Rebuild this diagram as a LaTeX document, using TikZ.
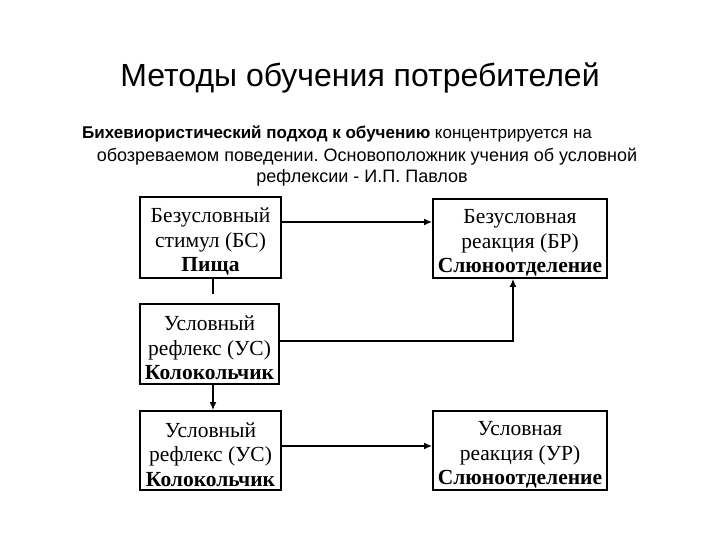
\documentclass[tikz,border=0pt]{standalone}
\usepackage{fontspec}
\setmainfont{Liberation Serif}
\newfontfamily\arialf{Liberation Sans}
\usetikzlibrary{arrows.meta,calc}
\frenchspacing
\newcommand{\topstrut}{\rule{0pt}{23pt}}
\tikzset{
  box/.style={draw, line width=1.8pt, rectangle, inner sep=0pt, align=center,
    font=\fontsize{21.5}{24.5}\selectfont},
  arr/.style={line width=1.5pt, -{Latex[length=8pt,width=7pt]}},
  ln/.style={line width=1.5pt},
  ttl/.style={font=\arialf\fontsize{32}{36}\selectfont, inner sep=0pt},
  sub/.style={font=\arialf\fontsize{17}{20}\selectfont, inner sep=0pt, anchor=base west},
  subb/.style={font=\arialf\fontsize{18}{20}\selectfont, inner sep=0pt, anchor=base}
}
\begin{document}
\begin{tikzpicture}[x=1pt,y=-1pt]
\useasboundingbox (0,0) rectangle (720,540);
\node[ttl] (title) at (360,78) {Методы обучения потребителей};
\node[sub] (s1) at (82,139) {\textbf{Бихевиористический подход к обучению} концентрируется на};
\node[subb] (s2) at (367,162) {обозреваемом поведении. Основоположник учения об условной};
\node[subb] (s3) at (362,183) {рефлексии - И.П. Павлов};

\node[box, minimum width=141pt, minimum height=81pt] (b1) at (210.5,237.5)
  {\topstrut Безусловный\\стимул (БС)\\\textbf{Пища}};
\node[box, minimum width=174pt, minimum height=79pt] (b2) at (520,238.5)
  {\topstrut Безусловная\\реакция (БР)\\\textbf{Слюноотделение}};
\node[box, minimum width=139pt, minimum height=80pt] (b3) at (209.5,344)
  {\topstrut Условный\\рефлекс (УС)\\\textbf{Колокольчик}};
\node[box, minimum width=141pt, minimum height=79pt] (b4) at (210.5,450.5)
  {\topstrut Условный\\рефлекс (УС)\\\textbf{Колокольчик}};
\node[box, minimum width=174pt, minimum height=79pt] (b5) at (520,450.5)
  {\topstrut Условная\\реакция (УР)\\\textbf{Слюноотделение}};

\draw[arr] ([yshift=15.5pt]b1.east) -- ([yshift=15.5pt]b1.east -| b2.west);
\coordinate (c1) at ($([xshift=2.5pt]b1.south)+(0,15)$);
\draw[ln] ([xshift=2.5pt]b1.south) -- (c1);
\draw[arr] ([xshift=3.5pt]b3.south) -- ([xshift=3.5pt]b3.south |- b4.north);
\draw[arr] ([yshift=3pt]b3.east) -| ([xshift=-7pt]b2.south);
\draw[arr] ([yshift=4.5pt]b4.east) -- ([yshift=4.5pt]b4.east -| b5.west);
\end{tikzpicture}
\end{document}
